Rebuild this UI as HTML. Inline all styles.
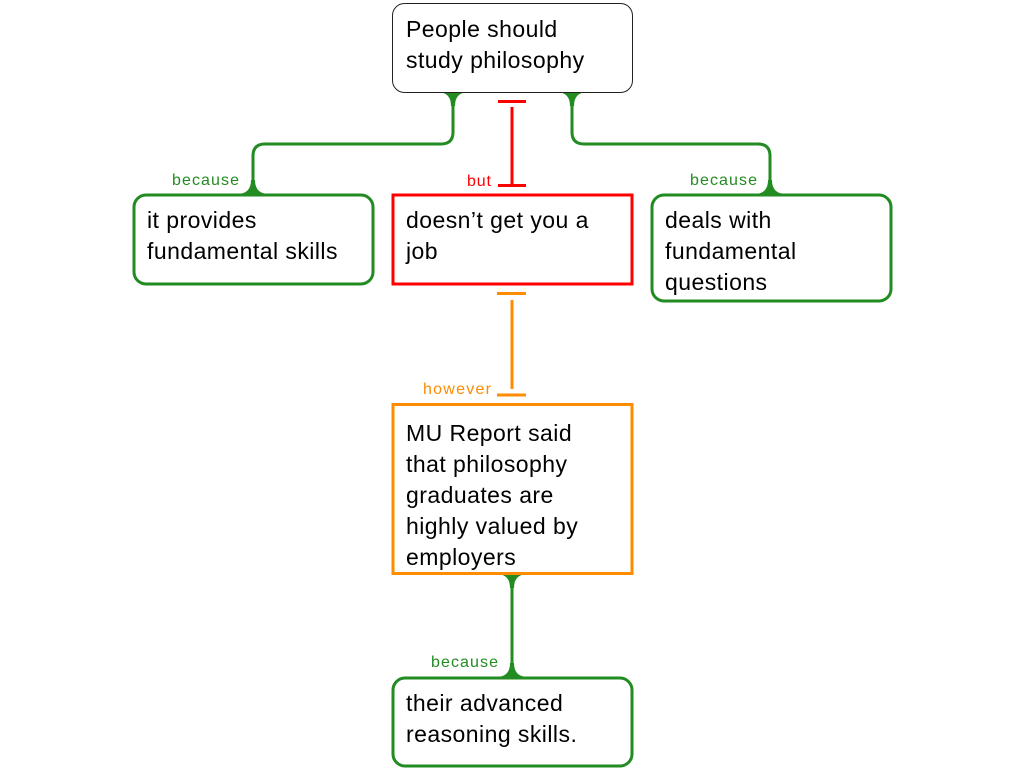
<!DOCTYPE html>
<html>
<head>
<meta charset="utf-8">
<style>
  html,body{margin:0;padding:0;background:#fff;}
  svg{display:block;}
  text{font-family:"Liberation Sans", Arial, sans-serif;}
  .t{font-size:23px;fill:#000;letter-spacing:0.45px;}
  .lbl{font-size:16px;}
</style>
</head>
<body>
<svg width="1024" height="768" viewBox="0 0 1024 768" xmlns="http://www.w3.org/2000/svg">
  <!-- Green connectors -->
  <g fill="none" stroke="#228b22" stroke-width="3">
    <path d="M453 92 L453 132 Q453 144 441 144 L265 144 Q253 144 253 156 L253 194"/>
    <path d="M572 92 L572 132 Q572 144 584 144 L758 144 Q770 144 770 156 L770 194"/>
    <path d="M512 574 L512 677"/>
  </g>
  <g fill="#228b22">
    <path d="M437 92 Q451 92 451 106 L455 106 Q455 92 469 92 Z"/>
    <path d="M556 92 Q570 92 570 106 L574 106 Q574 92 588 92 Z"/>
    <path d="M496 574 Q510 574 510 588 L514 588 Q514 574 528 574 Z"/>
    <path d="M237 194 Q251 194 251 180 L255 180 Q255 194 269 194 Z"/>
    <path d="M754 194 Q768 194 768 180 L772 180 Q772 194 786 194 Z"/>
    <path d="M496 677 Q510 677 510 663 L514 663 Q514 677 528 677 Z"/>
  </g>

  <!-- Red T connector -->
  <g stroke="#ff0000" stroke-width="3" fill="none">
    <path d="M498 101.5 L526 101.5"/>
    <path d="M512 107 L512 185"/>
    <path d="M498 185.5 L526 185.5"/>
  </g>
  <!-- Orange T connector -->
  <g stroke="#ff8c00" stroke-width="3" fill="none">
    <path d="M497 293.5 L526 293.5"/>
    <path d="M512 300 L512 389"/>
    <path d="M497 395 L526 395"/>
  </g>

  <!-- Labels -->
  <text class="lbl" x="172" y="185" fill="#228b22" textLength="67" lengthAdjust="spacing">because</text>
  <text class="lbl" x="690" y="185" fill="#228b22" textLength="67" lengthAdjust="spacing">because</text>
  <text class="lbl" x="467" y="186" fill="#ff0000" textLength="24" lengthAdjust="spacing">but</text>
  <text class="lbl" x="423" y="394" fill="#ff8c00" textLength="68" lengthAdjust="spacing">however</text>
  <text class="lbl" x="431" y="667" fill="#228b22" textLength="67" lengthAdjust="spacing">because</text>

  <!-- Boxes -->
  <rect x="392.5" y="3.5" width="240" height="89" rx="12" ry="12" fill="#fff" stroke="#222" stroke-width="1"/>
  <rect x="134" y="195" width="239" height="89" rx="12" ry="12" fill="#fff" stroke="#228b22" stroke-width="3"/>
  <rect x="393" y="195" width="239" height="89" fill="#fff" stroke="#ff0000" stroke-width="3"/>
  <rect x="652" y="195" width="239" height="106" rx="12" ry="12" fill="#fff" stroke="#228b22" stroke-width="3"/>
  <rect x="393" y="404.5" width="239" height="169" fill="#fff" stroke="#ff8c00" stroke-width="3"/>
  <rect x="393" y="678" width="239" height="88" rx="12" ry="12" fill="#fff" stroke="#228b22" stroke-width="3"/>

  <!-- Box text -->
  <text class="t" x="406" y="37">People should</text>
  <text class="t" x="406" y="68">study philosophy</text>

  <text class="t" x="147" y="228">it provides</text>
  <text class="t" x="147" y="259">fundamental skills</text>

  <text class="t" x="406" y="228">doesn’t get you a</text>
  <text class="t" x="406" y="259">job</text>

  <text class="t" x="665" y="228">deals with</text>
  <text class="t" x="665" y="259">fundamental</text>
  <text class="t" x="665" y="290">questions</text>

  <text class="t" x="406" y="441">MU Report said</text>
  <text class="t" x="406" y="472">that philosophy</text>
  <text class="t" x="406" y="503">graduates are</text>
  <text class="t" x="406" y="534">highly valued by</text>
  <text class="t" x="406" y="565">employers</text>

  <text class="t" x="406" y="711">their advanced</text>
  <text class="t" x="406" y="742">reasoning skills.</text>
</svg>
</body>
</html>
